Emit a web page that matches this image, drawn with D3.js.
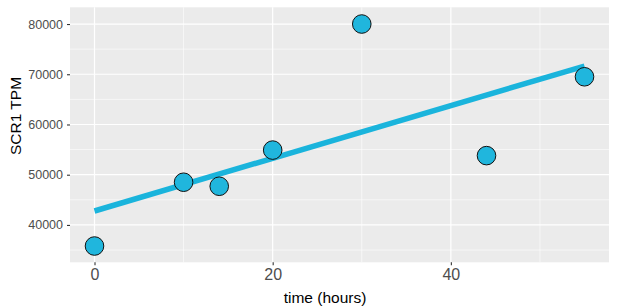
<!DOCTYPE html>
<html>
<head>
<meta charset="utf-8">
<script src="https://cdn.jsdelivr.net/npm/d3@7"></script>
<style>
  body { margin: 0; background: #fff; }
  svg { display: block; font-family: "Liberation Sans", Arial, Helvetica, sans-serif; }
</style>
</head>
<body>
<svg id="chart" width="617" height="308"></svg>
<script>
const timeHours = [0, 10, 14, 20, 30, 44, 55];
const scr1TPM = [35800, 48500, 47700, 54900, 80000, 53800, 69500];
const xTicks = [0, 20, 40];
const xMinor = [10, 30, 50];
const yTicks = [40000, 50000, 60000, 70000, 80000];
const yMinor = [35000, 45000, 55000, 65000, 75000];

const svg = d3.select("#chart");
const panel = { left: 70, right: 609, top: 7.3, bottom: 262.3 };

const x = d3.scaleLinear().domain([-2.75, 57.75]).range([panel.left, panel.right]);
const y = d3.scaleLinear().domain([32560, 83330]).range([panel.bottom, panel.top]);

// panel background
svg.append("rect")
  .attr("x", panel.left).attr("y", panel.top)
  .attr("width", panel.right - panel.left).attr("height", panel.bottom - panel.top)
  .attr("fill", "#EBEBEB");

const grid = svg.append("g");
grid.selectAll(".ymin").data(yMinor).join("line")
  .attr("x1", panel.left).attr("x2", panel.right)
  .attr("y1", d => y(d)).attr("y2", d => y(d))
  .attr("stroke", "#fff").attr("stroke-width", 0.6);
grid.selectAll(".xmin").data(xMinor).join("line")
  .attr("y1", panel.top).attr("y2", panel.bottom)
  .attr("x1", d => x(d)).attr("x2", d => x(d))
  .attr("stroke", "#fff").attr("stroke-width", 0.6);
grid.selectAll(".ymaj").data(yTicks).join("line")
  .attr("x1", panel.left).attr("x2", panel.right)
  .attr("y1", d => y(d)).attr("y2", d => y(d))
  .attr("stroke", "#fff").attr("stroke-width", 1.2);
grid.selectAll(".xmaj").data(xTicks).join("line")
  .attr("y1", panel.top).attr("y2", panel.bottom)
  .attr("x1", d => x(d)).attr("x2", d => x(d))
  .attr("stroke", "#fff").attr("stroke-width", 1.2);

// axes
const yAxis = svg.append("g").attr("transform", `translate(${panel.left},0)`)
  .call(d3.axisLeft(y).tickValues(yTicks).tickSize(3).tickPadding(4).tickFormat(d3.format("d")));
yAxis.select(".domain").remove();
yAxis.selectAll(".tick line").attr("stroke", "#333").attr("stroke-width", 1.1);
yAxis.selectAll(".tick text").attr("fill", "#4D4D4D").style("font-size", "12.5px")
  .style("font-family", "'Liberation Sans', Arial, sans-serif");

const xAxis = svg.append("g").attr("transform", `translate(0,${panel.bottom})`)
  .call(d3.axisBottom(x).tickValues(xTicks).tickSize(3).tickPadding(3).tickFormat(d3.format("d")));
xAxis.select(".domain").remove();
xAxis.selectAll(".tick line").attr("stroke", "#333").attr("stroke-width", 1.1);
xAxis.selectAll(".tick text").attr("fill", "#4D4D4D").style("font-size", "16px")
  .style("font-family", "'Liberation Sans', Arial, sans-serif");

// regression line (least squares fit of the data)
const n = timeHours.length;
const mx = d3.mean(timeHours), my = d3.mean(scr1TPM);
let sxy = 0, sxx = 0;
for (let i = 0; i < n; i++) { sxy += (timeHours[i]-mx)*(scr1TPM[i]-my); sxx += (timeHours[i]-mx)**2; }
const slope = sxy / sxx, intercept = my - slope * mx;
const xs = d3.extent(timeHours);
const fit = xs.map(t => [t, intercept + slope * t]);
svg.append("path")
  .datum(fit)
  .attr("d", d3.line().x(d => x(d[0])).y(d => y(d[1])))
  .attr("fill", "none").attr("stroke", "#1AB4DC").attr("stroke-width", 5.5);

// points
svg.selectAll(".pt").data(timeHours.map((t, i) => [t, scr1TPM[i]])).join("circle")
  .attr("cx", d => x(d[0])).attr("cy", d => y(d[1])).attr("r", 9.3)
  .attr("fill", "#20B6DD").attr("stroke", "#111").attr("stroke-width", 1);

// titles
svg.append("text").attr("x", 325).attr("y", 303).attr("text-anchor", "middle")
  .style("font-size", "15.5px").attr("fill", "#000").text("time (hours)");
svg.append("text").attr("transform", "translate(21,116) rotate(-90)").attr("text-anchor", "middle")
  .style("font-size", "15.5px").attr("fill", "#000").text("SCR1 TPM");
</script>
</body>
</html>
